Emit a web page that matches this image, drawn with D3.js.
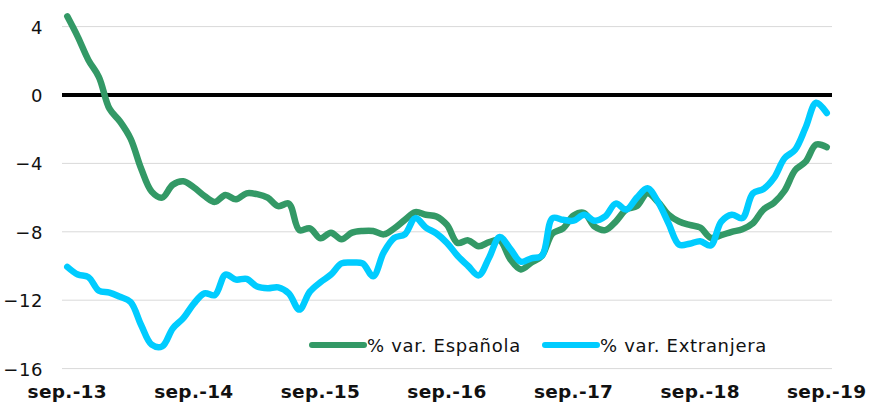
<!DOCTYPE html>
<html><head><meta charset="utf-8">
<script src="https://cdn.jsdelivr.net/npm/d3@7"></script>
<style>
html,body{margin:0;padding:0;background:#fff;}
svg{display:block;font-family:"DejaVu Sans",Verdana,sans-serif;}
</style></head>
<body><svg id="c" width="870" height="405"></svg>
<script>
// Monthly categories sep.-13 .. sep.-19 (73 months)
const months = ["sep.","oct.","nov.","dic.","ene.","feb.","mar.","abr.","may.","jun.","jul.","ago."];
const categories = [];
for (let i = 0; i < 73; i++) {
  const yr = 13 + Math.floor((i + 8) / 12);
  categories.push(months[i % 12] + "-" + yr);
}
const tickLabels = ["sep.-13","sep.-14","sep.-15","sep.-16","sep.-17","sep.-18","sep.-19"];
const yTicks = [4, 0, -4, -8, -12, -16];

const espanola = [4.6,3.4,2.05,1.05,-0.8,-1.55,-2.55,-4.3,-5.65,-6.0,-5.25,-5.05,
  -5.4,-5.9,-6.25,-5.85,-6.1,-5.75,-5.8,-6.0,-6.5,-6.35,-7.9,-7.8,
  -8.38,-8.05,-8.44,-8.05,-7.95,-7.95,-8.15,-7.8,-7.3,-6.85,-7.0,-7.1,
  -7.6,-8.65,-8.5,-8.85,-8.6,-8.5,-9.6,-10.2,-9.8,-9.4,-8.1,-7.8,
  -7.05,-6.9,-7.7,-7.9,-7.4,-6.7,-6.5,-5.75,-6.25,-7.0,-7.4,-7.6,
  -7.75,-8.35,-8.2,-8.0,-7.85,-7.5,-6.7,-6.3,-5.6,-4.4,-3.9,-2.9,-3.05];
const extranjera = [-10.05,-10.5,-10.65,-11.45,-11.55,-11.8,-12.1,-13.45,-14.6,-14.7,-13.65,-13.05,
  -12.2,-11.6,-11.7,-10.5,-10.8,-10.75,-11.2,-11.3,-11.25,-11.6,-12.55,-11.5,
  -10.95,-10.5,-9.85,-9.8,-9.85,-10.6,-9.2,-8.35,-8.15,-7.2,-7.75,-8.1,
  -8.65,-9.4,-10.0,-10.55,-9.5,-8.3,-9.0,-9.75,-9.55,-9.4,-7.2,-7.3,
  -7.35,-7.0,-7.35,-7.1,-6.35,-6.7,-6.0,-5.45,-6.25,-7.5,-8.75,-8.7,
  -8.55,-8.8,-7.4,-7.0,-7.2,-5.75,-5.5,-4.85,-3.7,-3.2,-1.9,-0.45,-1.05];

const seriesNames = ["% var. Española", "% var. Extranjera"];
const colors = ["#339966", "#00CCFF"];

const svg = d3.select("#c");
const L = 62, R = 832, T = 26.6, B = 368.6;

const x = d3.scaleBand().domain(categories).range([L, R]).padding(0);
const xc = d => x(d) + x.bandwidth() / 2;
const y = d3.scaleLinear().domain([-16, 4]).range([B, T]);

// gridlines
svg.append("g").selectAll("line").data(yTicks.filter(v => v !== 0)).join("line")
  .attr("x1", L).attr("x2", R)
  .attr("y1", d => y(d)).attr("y2", d => y(d))
  .attr("stroke", "#d9d9d9").attr("stroke-width", 1);

// y axis labels
const yAxis = d3.axisLeft(y).tickValues(yTicks).tickSize(0).tickPadding(0).tickFormat(d3.format("d"));
const yg = svg.append("g").attr("transform", `translate(${L - 19},0)`).call(yAxis);
yg.select(".domain").remove();
yg.selectAll("text").attr("font-size", 18).attr("fill", "#111").attr("letter-spacing", "0.6px")
  .attr("font-family", "'DejaVu Sans',Verdana,sans-serif").attr("dy", "0.36em");

// x axis labels
const tickCats = tickLabels.map((t, k) => categories[k * 12]);
const xAxis = d3.axisBottom(x).tickValues(tickCats).tickSize(0).tickPadding(0)
  .tickFormat((d, k) => tickLabels[k]);
const xg = svg.append("g").attr("transform", `translate(0,${B + 16})`).call(xAxis);
xg.select(".domain").remove();
xg.selectAll("text").attr("font-size", 18.5).attr("font-weight", "bold").attr("fill", "#111")
  .attr("letter-spacing", "0.3px")
  .attr("font-family", "'DejaVu Sans',Verdana,sans-serif").attr("dy", "0.71em");

// zero line
svg.append("line").attr("x1", L).attr("x2", R).attr("y1", y(0)).attr("y2", y(0))
  .attr("stroke", "#000").attr("stroke-width", 4);

// lines
const line = d3.line().x((d, i) => xc(categories[i])).y(d => y(d)).curve(d3.curveCatmullRom.alpha(0.5));
[espanola, extranjera].forEach((s, k) => {
  svg.append("path").attr("d", line(s)).attr("fill", "none")
    .attr("stroke", colors[k]).attr("stroke-width", 6.5)
    .attr("stroke-linecap", "round").attr("stroke-linejoin", "round");
});

// legend
const legX = [312, 545];
seriesNames.forEach((n, k) => {
  const g = svg.append("g");
  g.append("line").attr("x1", legX[k]).attr("x2", legX[k] + 52).attr("y1", 345).attr("y2", 345)
    .attr("stroke", colors[k]).attr("stroke-width", 6).attr("stroke-linecap", "round");
  g.append("text").attr("x", legX[k] + 55).attr("y", 352).text(n)
    .attr("font-size", 18).attr("letter-spacing", "0.7px").attr("fill", "#111");
});
</script></body></html>
